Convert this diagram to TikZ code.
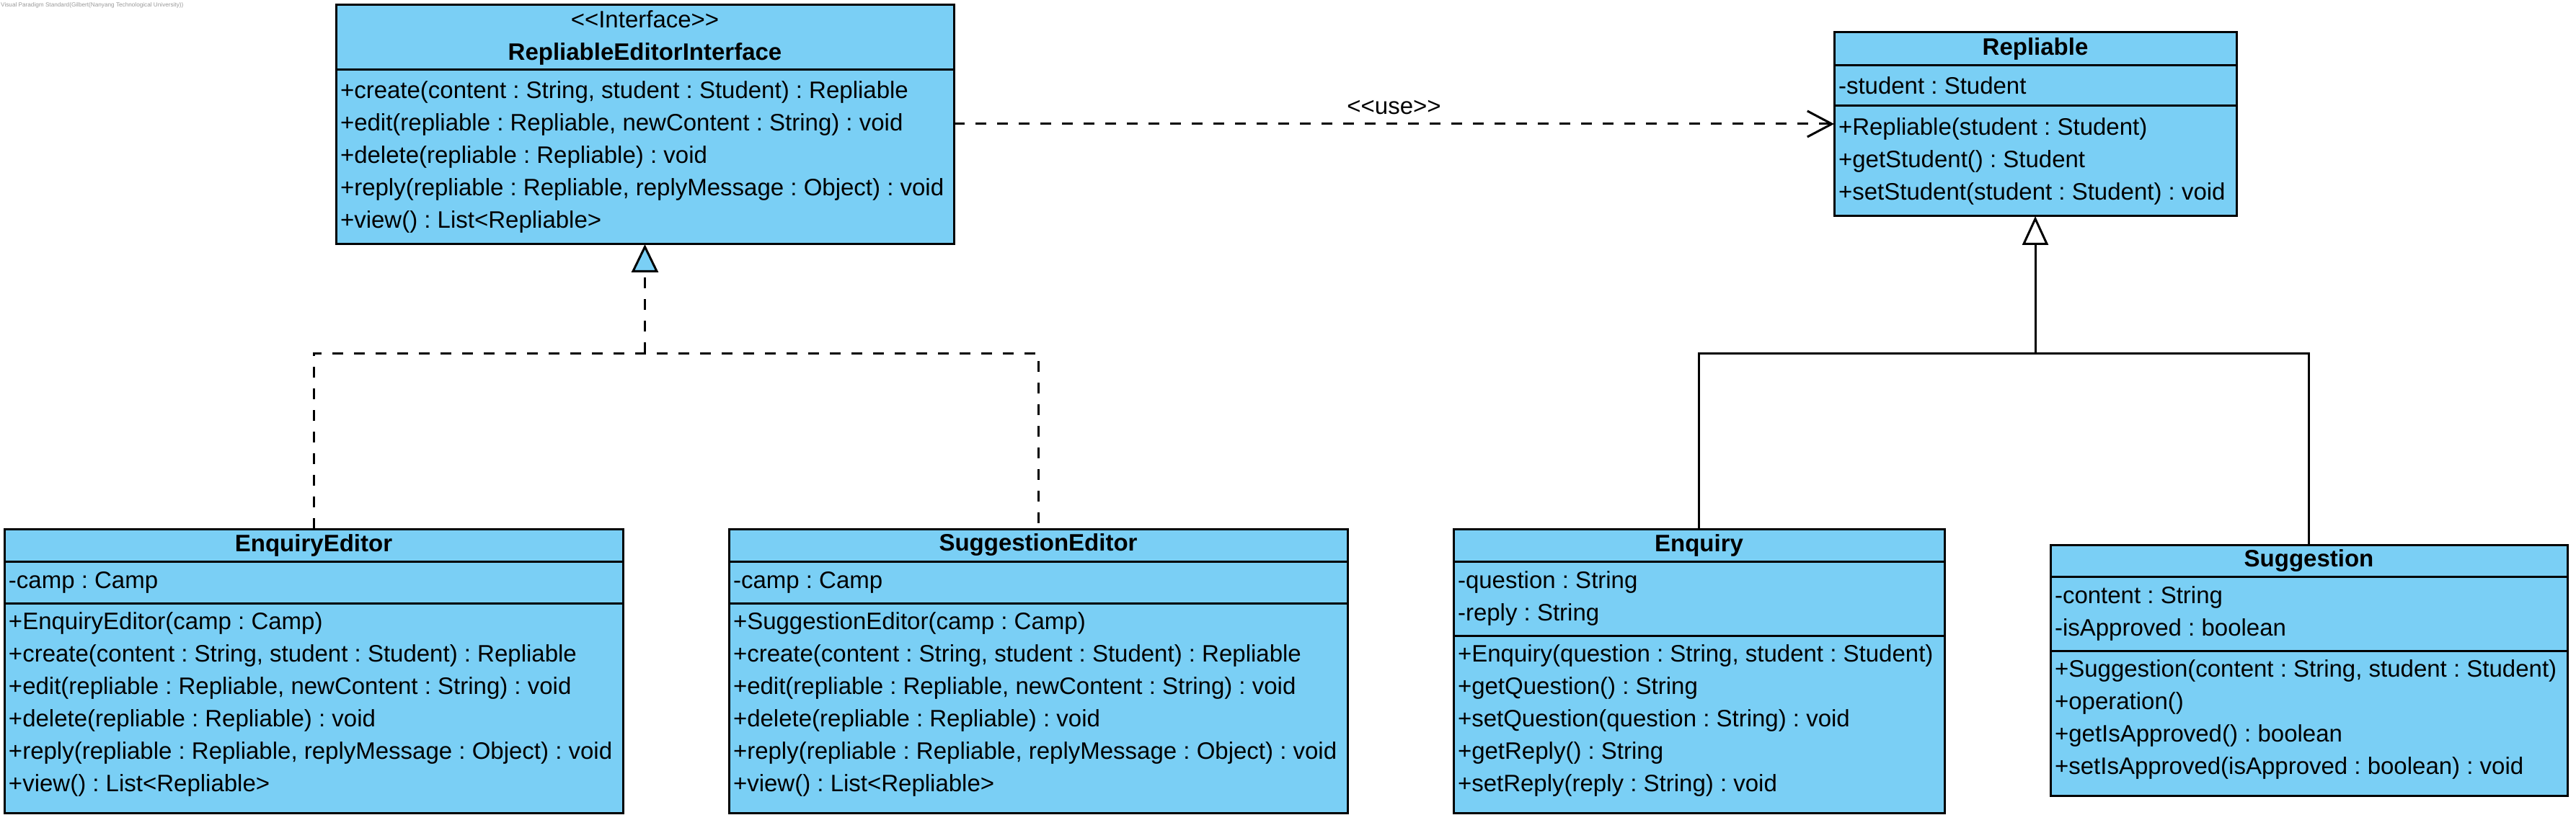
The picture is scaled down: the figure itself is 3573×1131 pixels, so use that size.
\documentclass[tikz,border=0pt]{standalone}
\usepackage{fontspec}
\setmainfont{Liberation Sans}
\usepackage{xcolor}
\usepackage{tikz}
\usetikzlibrary{arrows.meta,positioning}

\definecolor{vpblue}{RGB}{122,207,245}
\newcommand{\stereo}[1]{\textless\kern0pt\textless#1\textgreater\kern0pt\textgreater}
\newcommand{\lowpad}{\rule[-17pt]{0pt}{17pt}}
\frenchspacing

\begin{document}
\begin{tikzpicture}[x=1pt, y=-1pt,
  font=\fontsize{33}{45}\selectfont,
  classhead/.style={draw, fill=vpblue, line width=3pt, outer sep=0pt,
    inner xsep=6pt, inner ysep=0pt, text width=#1, align=flush center,
    font=\fontsize{33}{45}\selectfont\bfseries},
  classpart/.style={draw, fill=vpblue, line width=3pt, outer sep=0pt,
    inner xsep=6pt, inner ysep=0pt, text width=#1, align=flush left},
  dashline/.style={line width=3pt, dash pattern=on 15pt off 15pt},
  genline/.style={line width=3pt}]
\useasboundingbox (0,0) rectangle (3573,1131);

% Tool mark
\node[anchor=west, inner sep=0pt, text=black!40, font=\fontsize{8.2}{9}\selectfont] (vpmark) at (1,7)
  {Visual Paradigm Standard(Gilbert(Nanyang Technological University))};

% Interface
\node[classhead=845pt, minimum height=90pt, anchor=north west] (rei-h) at (466,7)
  {{\mdseries \stereo{Interface}}\\ RepliableEditorInterface};
\node[classpart=845pt, minimum height=242pt, below=0pt of rei-h] (rei-m)
  {+create(content : String, student : Student) : Repliable\\
   +edit(repliable : Repliable, newContent : String) : void\\
   +delete(repliable : Repliable) : void\\
   +reply(repliable : Repliable, replyMessage : Object) : void\\
   +view() : List\textless Repliable\textgreater};

% Repliable
\node[classhead=546pt, minimum height=46pt, anchor=north west] (rep-h) at (2544,45) {Repliable};
\node[classpart=546pt, minimum height=56pt, below=0pt of rep-h] (rep-a) {-student : Student};
\node[classpart=546pt, minimum height=153pt, below=0pt of rep-a] (rep-m)
  {+Repliable(student : Student)\\
   +getStudent() : Student\\
   +setStudent(student : Student) : void};

% Editors
\node[classhead=846pt, minimum height=45pt, anchor=north west] (ee-h) at (6,734) {EnquiryEditor};
\node[classpart=846pt, minimum height=58pt, below=0pt of ee-h] (ee-a) {-camp : Camp};
\node[classpart=846pt, minimum height=291pt, below=0pt of ee-a] (ee-m)
  {+EnquiryEditor(camp : Camp)\\
   +create(content : String, student : Student) : Repliable\\
   +edit(repliable : Repliable, newContent : String) : void\\
   +delete(repliable : Repliable) : void\\
   +reply(repliable : Repliable, replyMessage : Object) : void\\
   +view() : List\textless Repliable\textgreater\lowpad};

\node[classhead=846pt, minimum height=45pt, anchor=north west] (se-h) at (1011,734) {SuggestionEditor};
\node[classpart=846pt, minimum height=58pt, below=0pt of se-h] (se-a) {-camp : Camp};
\node[classpart=846pt, minimum height=291pt, below=0pt of se-a] (se-m)
  {+SuggestionEditor(camp : Camp)\\
   +create(content : String, student : Student) : Repliable\\
   +edit(repliable : Repliable, newContent : String) : void\\
   +delete(repliable : Repliable) : void\\
   +reply(repliable : Repliable, replyMessage : Object) : void\\
   +view() : List\textless Repliable\textgreater\lowpad};

% Subclasses
\node[classhead=669pt, minimum height=45pt, anchor=north west] (enq-h) at (2016,734) {Enquiry};
\node[classpart=669pt, minimum height=103pt, below=0pt of enq-h] (enq-a)
  {-question : String\\
   -reply : String};
\node[classpart=669pt, minimum height=246pt, below=0pt of enq-a] (enq-m)
  {+Enquiry(question : String, student : Student)\\
   +getQuestion() : String\\
   +setQuestion(question : String) : void\\
   +getReply() : String\\
   +setReply(reply : String) : void\lowpad};

\node[classhead=705pt, minimum height=44pt, anchor=north west] (sug-h) at (2844,756) {Suggestion};
\node[classpart=705pt, minimum height=103pt, below=0pt of sug-h] (sug-a)
  {-content : String\\
   -isApproved : boolean};
\node[classpart=705pt, minimum height=201pt, below=0pt of sug-a] (sug-m)
  {+Suggestion(content : String, student : Student)\\
   +operation()\\
   +getIsApproved() : boolean\\
   +setIsApproved(isApproved : boolean) : void\lowpad};

% Use dependency
\draw[dashline, -{Straight Barb[length=34pt, width=36pt]}]
  ([yshift=-75pt]rei-m.north east) -- node[above=12pt, inner sep=0pt] (uselabel)
  {\stereo{use}} ([yshift=-25pt]rep-m.north west);

% Realization
\coordinate (realjoin) at (rei-m.south |- 0,490);
\draw[dashline] (ee-h.north) |- (realjoin) -| (se-h.north);
\draw[dashline, -{Triangle[length=39pt, width=37pt, fill=vpblue]}] (realjoin) -- (rei-m.south);

% Generalization
\coordinate (genjoin) at (rep-m.south |- 0,490);
\draw[genline] (enq-h.north) |- (genjoin) -| (sug-h.north);
\draw[genline, -{Triangle[length=40pt, width=36pt, fill=white]}] (genjoin) -- (rep-m.south);

\end{tikzpicture}
\end{document}
